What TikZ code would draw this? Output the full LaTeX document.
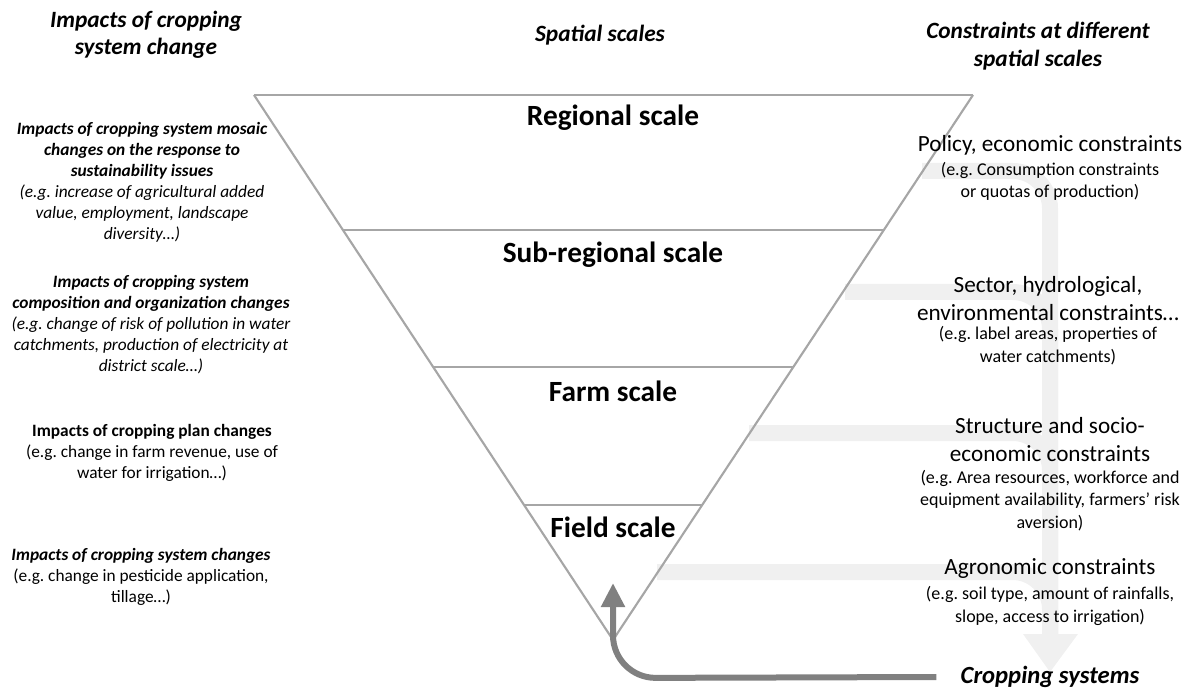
\documentclass[tikz,border=0pt]{standalone}
\usepackage{fontspec}
\setmainfont{Carlito}
\frenchspacing
\usetikzlibrary{arrows.meta,calc}
\definecolor{edgegray}{RGB}{166,166,166}
\definecolor{bandgray}{RGB}{240,240,240}
\definecolor{arrowgray}{RGB}{128,128,128}
\tikzset{
  hdr/.style={font=\fontsize{17.5}{20.5}\selectfont\bfseries\itshape, align=center, inner sep=0},
  scl/.style={font=\fontsize{22}{26}\selectfont\bfseries, inner sep=0},
  lft/.style={font=\fontsize{13}{15.75}\selectfont, align=center, inner sep=0},
  rtitle/.style={font=\fontsize{17.4}{21}\selectfont, align=center, inner sep=0},
  reg/.style={font=\fontsize{13.5}{17}\selectfont, align=center, inner sep=0},
  edge/.style={draw=edgegray, line width=1.6pt},
  band/.style={draw=bandgray, line width=12pt, rounded corners=28pt},
}
\begin{document}
\begin{tikzpicture}[x=0.75pt,y=-0.75pt]
\useasboundingbox (0,0) rectangle (1195,691);
% triangle corners
\coordinate (tl) at (254,95);
\coordinate (tr) at (973,95);
\coordinate (ap) at (613,640);
% light gray merging bands
\coordinate (b1) at (922,171);
\coordinate (b2) at (845,292);
\coordinate (b3) at (749,433);
\coordinate (b4) at (657,572);
\coordinate (trunk) at (1050,640);
\draw[band] (b1) -| (trunk);
\draw[band] (b2) -| (trunk);
\draw[band] (b3) -| (trunk);
\draw[band] (b4) -| (trunk);
\fill[bandgray] (1023,634) -- (1078,634) -- (1050,672) -- cycle;
% triangle
\draw[edge, line width=2.2pt] (tl) -- (tr);
\draw[edge] (tl) -- (ap) -- (tr);
\draw[edge, line width=2pt] ($(tl)!135/545!(ap)$) coordinate (l1) -- ($(tr)!135/545!(ap)$) coordinate (r1);
\draw[edge, line width=2pt] ($(tl)!272/545!(ap)$) coordinate (l2) -- ($(tr)!272/545!(ap)$) coordinate (r2);
\draw[edge, line width=2pt] ($(tl)!410/545!(ap)$) coordinate (l3) -- ($(tr)!410/545!(ap)$) coordinate (r3);
% scale labels
\node[scl] (regional) at (613,118) {Regional scale};
\node[scl] (subregional) at (613,255) {Sub-regional scale};
\node[scl] (farm) at (613,391) {Farm scale};
\node[scl] (field) at (613,527) {Field scale};
% headers
\node[hdr] (hleft) at (146,35) {Impacts of cropping\\system change};
\node[hdr] (hmid) at (600,35) {Spatial scales};
\node[hdr] (hright) at (1038,46) {Constraints at different\\spatial scales};
% left column
\node[lft] (imp1) at (142,182.5) {\bfseries\itshape Impacts of cropping system mosaic\\\bfseries\itshape changes on the response to\\\bfseries\itshape sustainability issues\\\itshape (e.g. increase of agricultural added\\\itshape value, employment, landscape\\\itshape diversity…)};
\node[lft] (imp2) at (151,325) {\bfseries\itshape Impacts of cropping system\\\bfseries\itshape composition and organization changes\\\itshape (e.g. change of risk of pollution in water\\\itshape catchments, production of electricity at\\\itshape district scale…)};
\node[lft] (imp3) at (152,452.5) {\bfseries Impacts of cropping plan changes\\(e.g. change in farm revenue, use of\\water for irrigation…)};
\node[lft] (imp4) at (141,577) {\bfseries\itshape Impacts of cropping system changes\\(e.g. change in pesticide application,\\tillage…)};
% right column
\node[rtitle] (c1) at (1050,145) {Policy, economic constraints};
\node[reg] (c1e) at (1050,181.5) {(e.g. Consumption constraints\\or quotas of production)};
\node[rtitle] (c2) at (1048,299) {Sector, hydrological,\\environmental constraints…};
\node[reg] (c2e) at (1048,346) {(e.g. label areas, properties of\\water catchments)};
\node[rtitle] (c3) at (1050,439.5) {Structure and socio-\\economic constraints};
\node[reg] (c3e) at (1050,500.5) {(e.g. Area resources, workforce and\\equipment availability, farmers’ risk\\aversion)};
\node[rtitle] (c4) at (1050,569) {Agronomic constraints};
\node[reg] (c4e) at (1050,606) {(e.g. soil type, amount of rainfalls,\\slope, access to irrigation)};
\node[hdr, font=\fontsize{18.5}{22}\selectfont\bfseries\itshape] (cs) at (1050,677) {Cropping systems};
% dark arrow
\coordinate (tip) at (613,583);
\draw[arrowgray, line width=4.5pt, rounded corners=32pt, -{Triangle[width=17pt,length=18pt]}]
  ([xshift=-18pt]cs.west) -- (613,678) -- (tip);
\end{tikzpicture}
\end{document}
